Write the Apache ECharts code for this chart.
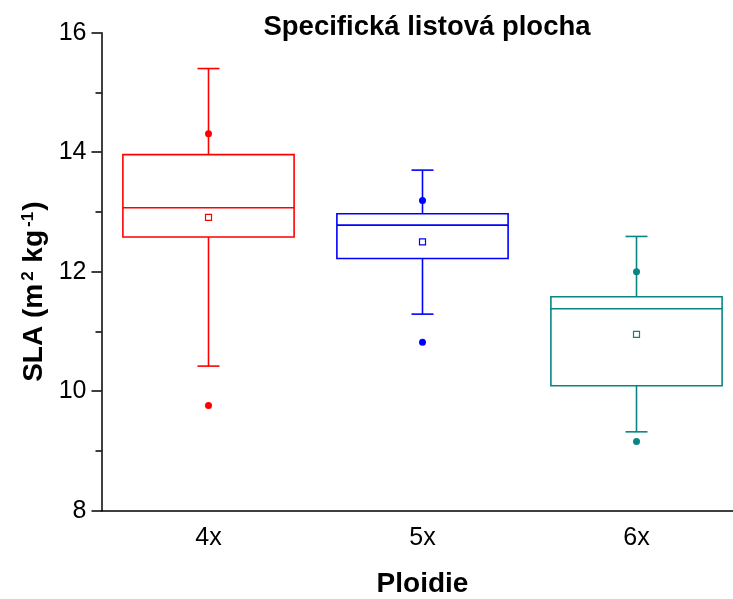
<!DOCTYPE html>
<html>
<head>
<meta charset="utf-8">
<script src="https://cdn.jsdelivr.net/npm/echarts@6/dist/echarts.min.js"></script>
<style>
  html, body { margin: 0; padding: 0; background: #fff; }
  #chart { width: 733px; height: 599px; }
</style>
</head>
<body>
<div id="chart"></div>
<script>
// Ploidy groups on the x axis
const categories = ['4x', '5x', '6x'];
// Box statistics of SLA per group
const whiskerLow  = [10.42, 11.29, 9.32];
const quartile1   = [12.58, 12.22, 10.09];
const medians     = [13.07, 12.78, 11.38];
const quartile3   = [13.96, 12.97, 11.58];
const whiskerHigh = [15.40, 13.70, 12.59];
const means       = [12.91, 12.50, 10.95];
// Extra single points above and below each box
const pointsHigh  = [14.31, 13.19, 12.00];
const pointsLow   = [9.76, 10.82, 9.16];
// Y axis ticks
const yMin = 8, yMax = 16, yStep = 2;

const colors = ['#ff0000', '#0000ff', '#0a8585'];
const FONT = '"Liberation Sans", Arial, sans-serif';

const boxData = categories.map((c, i) => [i, whiskerLow[i], quartile1[i], medians[i], quartile3[i], whiskerHigh[i], means[i]]);
const pointData = [];
categories.forEach((c, i) => {
  pointData.push({ value: [i, pointsHigh[i]], itemStyle: { color: colors[i] } });
  pointData.push({ value: [i, pointsLow[i]], itemStyle: { color: colors[i] } });
});

function renderBox(params, api) {
  const idx = api.value(0);
  const color = colors[idx];
  const band = api.size([1, 0])[0];
  const hw = band * 0.4;
  const cap = 11;
  const pLow = api.coord([idx, api.value(1)]);
  const pQ1 = api.coord([idx, api.value(2)]);
  const pMed = api.coord([idx, api.value(3)]);
  const pQ3 = api.coord([idx, api.value(4)]);
  const pHigh = api.coord([idx, api.value(5)]);
  const pMean = api.coord([idx, api.value(6)]);
  const x = pQ1[0];
  const ls = { stroke: color, lineWidth: 1.6, fill: null };
  const line = (x1, y1, x2, y2) => ({ type: 'line', shape: { x1, y1, x2, y2 }, style: ls });
  return {
    type: 'group',
    children: [
      { type: 'rect', shape: { x: x - hw, y: pQ3[1], width: hw * 2, height: pQ1[1] - pQ3[1] }, style: { stroke: color, lineWidth: 1.6, fill: 'none' } },
      line(x - hw, pMed[1], x + hw, pMed[1]),
      line(x, pQ3[1], x, pHigh[1]),
      line(x, pQ1[1], x, pLow[1]),
      line(x - cap, pHigh[1], x + cap, pHigh[1]),
      line(x - cap, pLow[1], x + cap, pLow[1]),
      { type: 'rect', shape: { x: x - 3, y: pMean[1] - 3, width: 6, height: 6 }, style: { stroke: color, lineWidth: 1.2, fill: '#fff' }, z2: 5 }
    ]
  };
}

const chart = echarts.init(document.getElementById('chart'));
chart.setOption({
  animation: false,
  backgroundColor: '#fff',
  title: {
    text: 'Specifická listová plocha',
    left: 422,
    top: 8,
    textAlign: 'center',
    textStyle: { fontFamily: FONT, fontSize: 27.5, fontWeight: 'bold', color: '#000' }
  },
  grid: { left: 101.5, top: 32.7, height: 478, width: 642, containLabel: false, outerBoundsMode: 'none' },
  xAxis: {
    type: 'category',
    data: categories,
    name: 'Ploidie',
    nameLocation: 'middle',
    nameGap: 60,
    nameTextStyle: { fontFamily: FONT, fontSize: 28, fontWeight: 'bold', color: '#000', verticalAlign: 'top' },
    axisLine: { lineStyle: { color: '#000', width: 1.5 } },
    axisTick: { alignWithLabel: true, length: 8, lineStyle: { color: '#000', width: 1.5 } },
    axisLabel: { fontFamily: FONT, fontSize: 25, color: '#000', margin: 15 },
    splitLine: { show: false }
  },
  yAxis: {
    type: 'value',
    min: yMin, max: yMax, interval: yStep,
    name: '{b|SLA (m}{s|2}{b| kg}{s|-1}{b|)}',
    nameLocation: 'middle',
    nameRotate: 90,
    nameGap: 52,
    nameTextStyle: {
      padding: [0, 40, 0, 0],
      rich: {
        b: { fontFamily: FONT, fontSize: 28, fontWeight: 'bold', color: '#000' },
        s: { fontFamily: FONT, fontSize: 17, fontWeight: 'bold', color: '#000', verticalAlign: 'top', padding: [0, 1, 0, 3] }
      }
    },
    axisLine: { show: true, lineStyle: { color: '#000', width: 1.5 } },
    axisTick: { show: true, length: 10, lineStyle: { color: '#000', width: 1.5 } },
    minorTick: { show: true, splitNumber: 2, length: 6, lineStyle: { color: '#000', width: 1.5 } },
    axisLabel: { fontFamily: FONT, fontSize: 25, color: '#000', margin: 15 },
    splitLine: { show: false }
  },
  series: [
    { type: 'custom', renderItem: renderBox, data: boxData, encode: { x: 0, y: [1, 2, 3, 4, 5] }, z: 2 },
    { type: 'scatter', data: pointData, symbol: 'circle', symbolSize: 7, itemStyle: { opacity: 1 }, z: 3 }
  ]
});
</script>
</body>
</html>
